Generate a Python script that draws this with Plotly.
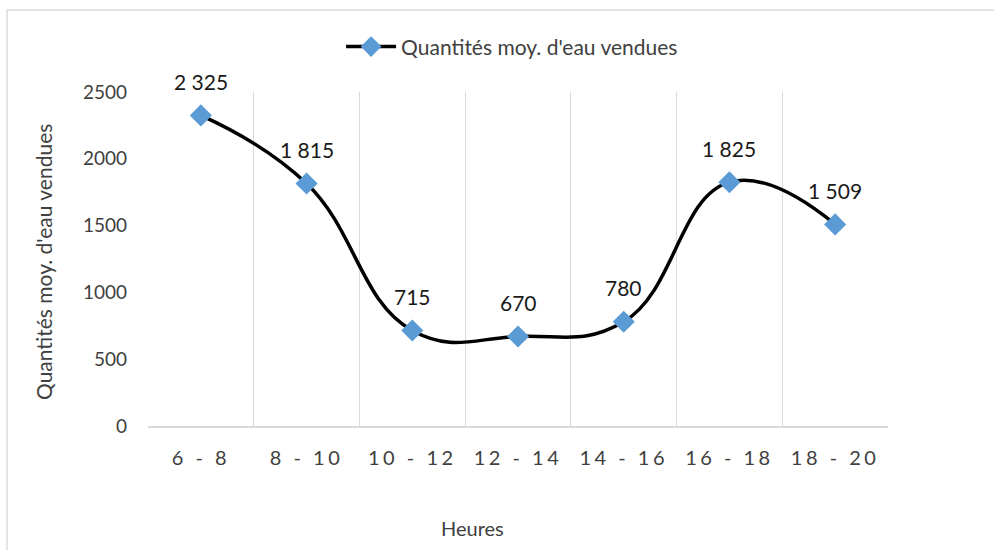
import plotly.graph_objects as go

# Tranches horaires et quantités moyennes d'eau vendues
heures = ["6 - 8", "8 - 10", "10 - 12", "12 - 14", "14 - 16", "16 - 18", "18 - 20"]
quantites = [2325, 1815, 715, 670, 780, 1825, 1509]
y_ticks = [0, 500, 1000, 1500, 2000, 2500]
serie_nom = "Quantités moy. d'eau vendues"
titre_x = "Heures"

FONT = "Lato, 'Open Sans', sans-serif"
GRID = "#DADADA"
TXT = "#404040"

x_pos = list(range(len(heures)))


def fr_nombre(v):
    # séparateur de milliers à la française (espace)
    return f"{v:,}".replace(",", " ")


fig = go.Figure()
fig.add_trace(go.Scatter(
    x=x_pos, y=quantites, name=serie_nom,
    mode="lines+markers",
    line=dict(color="#000000", width=3.5, shape="spline", smoothing=1.25),
    marker=dict(symbol="diamond", size=17, color="#5B9BD5",
                line=dict(width=0)),
    hoverinfo="skip",
))

annotations = []
for xi, v in zip(x_pos, quantites):
    annotations.append(dict(
        x=xi, y=v, xref="x", yref="y", text=fr_nombre(v),
        showarrow=False, yshift=34, yanchor="middle", xanchor="center",
        font=dict(family=FONT, size=21, color="#1a1a1a"),
    ))

# titre de l'axe vertical
annotations.append(dict(
    x=-0.141, y=0.49, xref="paper", yref="paper", text=serie_nom,
    textangle=-90, showarrow=False, xanchor="center", yanchor="middle",
    font=dict(family=FONT, size=21, color=TXT),
))
# titre de l'axe horizontal
annotations.append(dict(
    x=0.439, y=-0.305, xref="paper", yref="paper", text=titre_x,
    showarrow=False, xanchor="center", yanchor="middle",
    font=dict(family=FONT, size=20, color=TXT),
))

tick_text = [f'<span style="letter-spacing:3.5px">{h}</span>' for h in heures]
bords = [i - 0.5 for i in range(len(heures) + 1)]

fig.update_layout(
    width=994, height=550,
    margin=dict(l=148, r=106, t=92, b=124),
    paper_bgcolor="white", plot_bgcolor="white",
    font=dict(family=FONT, color=TXT),
    showlegend=True,
    legend=dict(
        orientation="h", x=0.492, y=1.135, xanchor="center", yanchor="middle",
        font=dict(family=FONT, size=21, color=TXT), itemwidth=50,
        bgcolor="rgba(0,0,0,0)",
    ),
    annotations=annotations,
    shapes=[dict(
        type="rect", xref="paper", yref="paper",
        x0=(7 - 148) / 740, x1=(1010 - 148) / 740,
        y0=(426 - 560) / 334, y1=(426 - 10) / 334,
        line=dict(color=GRID, width=1.5), fillcolor="rgba(0,0,0,0)",
        layer="below",
    )],
)

fig.update_xaxes(
    range=[-0.5, len(heures) - 0.5],
    tickmode="array", tickvals=x_pos, ticktext=tick_text,
    showgrid=False, zeroline=False,
    showline=True, linecolor=GRID, linewidth=1.5,
    ticks="", ticklabelstandoff=13,
    tickfont=dict(family=FONT, size=20, color=TXT),
    minor=dict(tickvals=bords, showgrid=True, gridcolor=GRID, gridwidth=1.2,
               ticks=""),
)
fig.update_yaxes(
    range=[0, 2500], tickmode="array", tickvals=y_ticks,
    showgrid=False, zeroline=False, showline=False,
    ticks="", ticklabelstandoff=20,
    tickfont=dict(family=FONT, size=19, color=TXT),
)

fig.write_html("out.html")
